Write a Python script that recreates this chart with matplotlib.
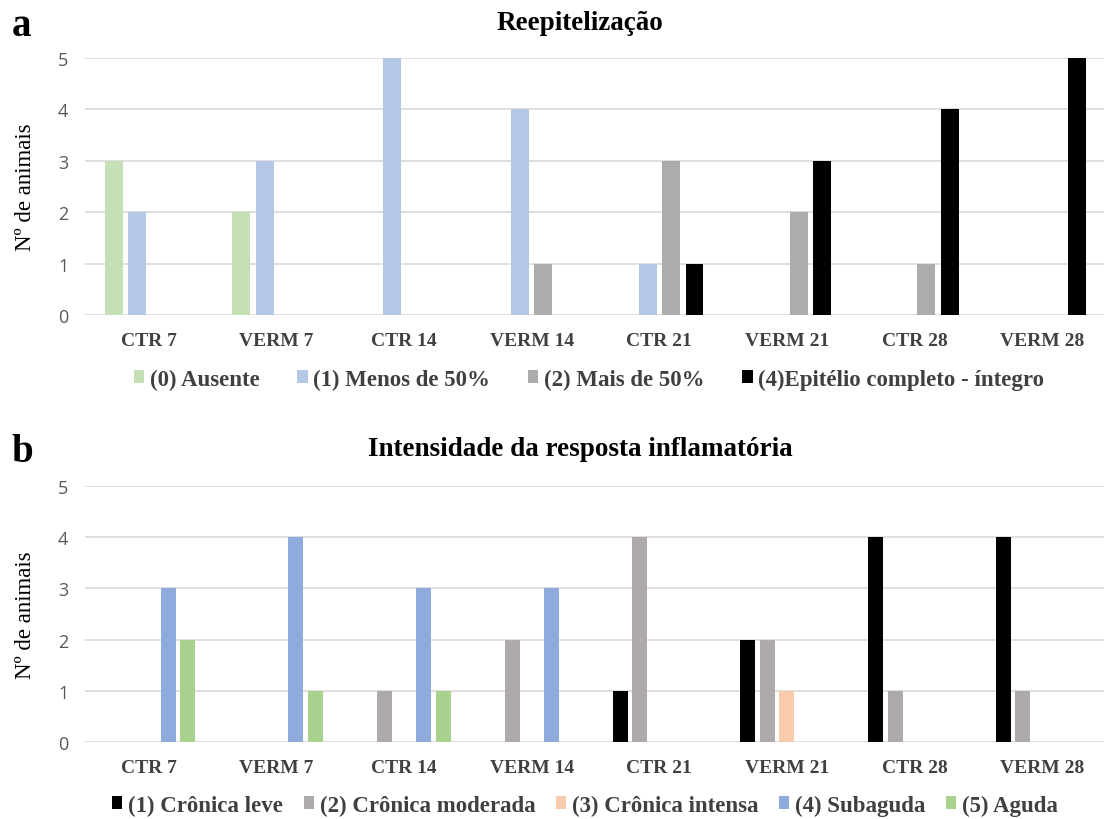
import matplotlib.pyplot as plt
import numpy as np

groups = ['CTR 7', 'VERM 7', 'CTR 14', 'VERM 14', 'CTR 21', 'VERM 21', 'CTR 28', 'VERM 28']

# painel a - reepitelizacao
reep_labels = ['(0) Ausente', '(1) Menos de 50%', '(2) Mais de 50%', '(4)Epitélio completo - íntegro']
reep_values = [
    [3, 2, 0, 0, 0, 0, 0, 0],
    [2, 3, 5, 4, 1, 0, 0, 0],
    [0, 0, 0, 1, 3, 2, 1, 0],
    [0, 0, 0, 0, 1, 3, 4, 5],
]
reep_colors = ['#C5E0B4', '#B4C7E7', '#AEABAB', '#000000']

# painel b - intensidade da resposta inflamatoria
infl_labels = ['(1) Crônica leve', '(2) Crônica moderada', '(3) Crônica intensa', '(4) Subaguda', '(5) Aguda']
infl_values = [
    [0, 0, 0, 0, 1, 2, 4, 4],
    [0, 0, 1, 2, 4, 2, 1, 1],
    [0, 0, 0, 0, 0, 1, 0, 0],
    [3, 4, 3, 3, 0, 0, 0, 0],
    [2, 1, 1, 0, 0, 0, 0, 0],
]
infl_colors = ['#000000', '#AEAAAA', '#F8CBAD', '#8FAADC', '#A9D18E']

serif = 'Liberation Serif'
W, H = 1104, 820

fig = plt.figure(figsize=(W / 100, H / 100), dpi=100)


def panel(bottom_px, top_px, values, labels, colors, pitch, width, title, letter,
          title_y, leg_y, leg_x, colspacing):
    ax = fig.add_axes([85 / W, 1 - bottom_px / H, 1021 / W, (bottom_px - top_px) / H])
    x = np.arange(len(groups))
    n = len(values)
    for j, (vals, lab, col) in enumerate(zip(values, labels, colors)):
        off = (j - (n - 1) / 2) * pitch
        ax.bar(x + off, vals, width, color=col, label=lab, zorder=3)
    ax.set_xlim(-0.5, 7.5)
    ax.set_ylim(0, 5)
    ax.set_yticks(range(6))
    ax.set_xticks(x)
    ax.set_xticklabels(groups, fontfamily=serif, fontweight='bold', fontsize=14, color='#404040')
    ax.tick_params(axis='y', labelsize=13, labelcolor='#595959', length=0, pad=12)
    ax.tick_params(axis='x', length=0, pad=12)
    for lab in ax.get_yticklabels():
        lab.set_fontfamily('Open Sans')
    ax.grid(axis='y', color='#D9D9D9', lw=1.2, zorder=0)
    for s in ax.spines.values():
        s.set_visible(False)
    ax.set_ylabel('Nº de animais', fontfamily=serif, fontsize=16.5, labelpad=16)
    fig.text(580 / W, 1 - title_y / H, title, ha='center', va='center',
             fontfamily=serif, fontweight='bold', fontsize=19.5)
    fig.text(22 / W, 1 - (title_y + 4) / H, letter, ha='center', va='center',
             fontfamily=serif, fontweight='bold', fontsize=28)
    leg = fig.legend(*ax.get_legend_handles_labels(), loc='center',
                     bbox_to_anchor=(leg_x / W, 1 - leg_y / H), ncol=n, frameon=False,
                     handlelength=0.45, handleheight=0.45, handletextpad=0.25,
                     columnspacing=colspacing,
                     prop={'family': serif, 'weight': 'bold', 'size': 16.5})
    for t in leg.get_texts():
        t.set_color('#404040')
    return ax


panel(316, 59, reep_values, reep_labels, reep_colors, 0.184, 0.14,
      'Reepitelização', 'a', 23, 380, 589, 1.65)
panel(743, 487, infl_values, infl_labels, infl_colors, 0.153, 0.118,
      'Intensidade da resposta inflamatória', 'b', 449, 806, 585, 0.9)

fig.savefig('out.png', dpi=100)
